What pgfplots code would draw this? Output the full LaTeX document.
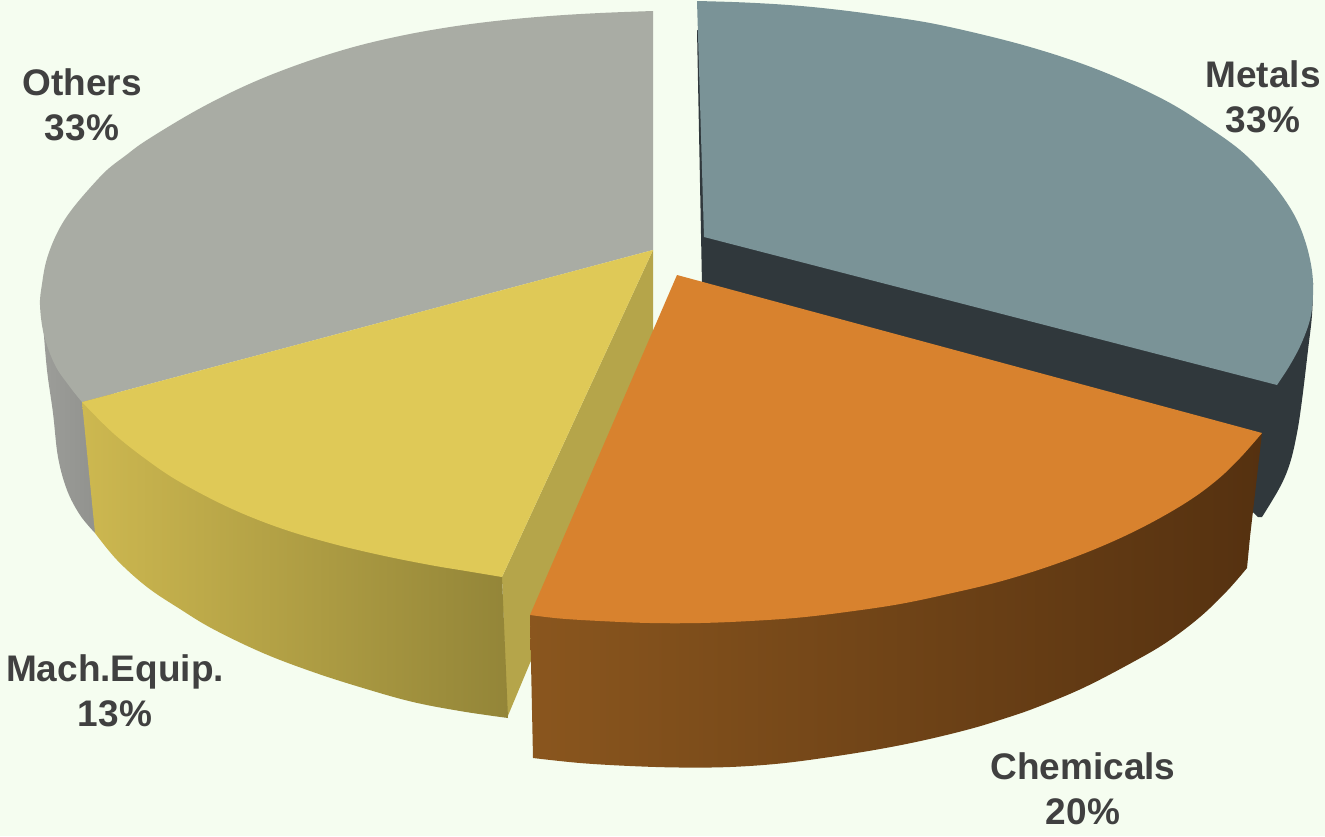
\documentclass[border=0pt]{standalone}
\usepackage{pgfplots}
\pgfplotsset{compat=1.18}
\usepackage{fontspec}
\setmainfont{Liberation Sans}
\definecolor{bgc}{HTML}{F5FDF0}
\definecolor{txt}{HTML}{404040}
\definecolor{metaltop}{HTML}{7A9397}
\definecolor{metalside}{HTML}{30383C}
\definecolor{orangetop}{HTML}{D8822E}
\definecolor{brownl}{HTML}{8A561E}
\definecolor{brownr}{HTML}{553110}
\definecolor{yellowtop}{HTML}{DFC957}
\definecolor{yellowcut}{HTML}{B5A54A}
\definecolor{yellowl}{HTML}{CDB850}
\definecolor{yellowr}{HTML}{938538}
\definecolor{greytop}{HTML}{A9ACA4}
\definecolor{greyl}{HTML}{9C9D99}
\definecolor{greyr}{HTML}{8C8D89}
\newcommand{\lab}[3]{\node[text=txt,align=center,font=\fontsize{37}{45}\selectfont\bfseries] at (axis cs:#1,#2) {#3};}
\begin{document}
\begin{tikzpicture}
\begin{axis}[
    scale only axis,
    width=1325pt, height=836pt,
    xmin=0, xmax=1325,
    ymin=0, ymax=836,
    y dir=reverse,
    hide axis,
    every axis plot/.append style={tension=0.6},
]
% background
\addplot[draw=none, fill=bgc] coordinates {(0,0)(1325,0)(1325,836)(0,836)} -- cycle;

% outer arcs are smooth, the straight edges are added after them
% metals side
\addplot[draw=none, fill=metalside, smooth] coordinates {
    (1313,283)(1312,315)(1308,350)(1302,400)(1297,433)(1290,463)(1280,487)(1262,517)
} -- (1258,517) -- (1240,500) -- (702,300) -- (702,285) -- (697,30) -- cycle;
% metals top
\addplot[draw=none, fill=metaltop, smooth] coordinates {
    (697,1)(745,2.5)(795,5.5)(840,10)(885,16)(930,23)(980,34)(1030,47)(1080,63)(1125,81)(1170,103)
    (1205,125)(1240,150)(1267,177)(1287,203)(1300,227)(1309,255)(1313,283)(1311,315)(1302,342)(1290,365)(1277,385)
} -- (704,237) -- cycle;

% others side
\addplot[draw=none, left color=greyl, right color=greyr, smooth] coordinates {
    (43,323)(47,370)(53,413)(58,457)(67,490)(80,515)(95,533)
} -- (120,350) -- cycle;
% others top
\addplot[draw=none, fill=greytop, smooth] coordinates {
    (653,11)(600,13)(550,16)(500,20.5)(450,27)(400,36)(350,48)(297,65)(247,85)(197,110)(147,140)
    (125,156)(107,170)(89,189)(73,208)(62,224)(53,242)(46,262)(42,284)(40,305)(44,335)(55,365)(70,387)(82,402)
} -- (653,250) -- cycle;

% mach. equip. sides
\addplot[draw=none, fill=yellowcut] coordinates {(653,250)(502,577)(507,718)(653,369)} -- cycle;
\addplot[draw=none, left color=yellowl, right color=yellowr, smooth] coordinates {
    (95,533)(117,560)(147,587)(180,609)(213,629)(263,653)(313,672)(363,688)(413,702)(463,711.5)(508,718)
} -- (502,577) -- (82,402) -- cycle;
% mach. equip. top
\addplot[draw=none, fill=yellowtop, smooth] coordinates {
    (82,402)(113,433)(147,460)(180,482)(230,508)(280,528)(330,543)(380,555)(430,565)(466,571)(502,577)
} -- (653,250) -- cycle;

% chemicals side
\addplot[draw=none, left color=brownl, middle color=brownr, right color=brownr, smooth] coordinates {
    (533,758)(580,763)(630,766)(680,767.5)(730,767)(780,763.5)(830,757)(880,749)(925,740)(970,729)
    (1003,719)(1035,708)(1083,688)(1133,662)(1167,642)(1200,617)(1227,591)(1247,568)
} -- (1250,537) -- (1262,433) -- (530,615) -- cycle;
% chemicals top
\addplot[draw=none, fill=orangetop, smooth] coordinates {
    (1262,433)(1240,458)(1217,480)(1187,502)(1145,526)(1100,547)(1050,566)(1000,581.5)(950,593.5)(900,604)(850,611.5)
    (800,617.5)(750,621)(700,623)(650,623)(600,621)(560,618.5)(530,615)
} -- (677,275) -- cycle;

\lab{82}{105}{Others\\33\%}
\lab{1263}{96.5}{Metals\\33\%}
\lab{115}{691}{Mach.Equip.\\13\%}
\lab{1083}{789}{Chemicals\\20\%}
\end{axis}
\end{tikzpicture}
\end{document}
